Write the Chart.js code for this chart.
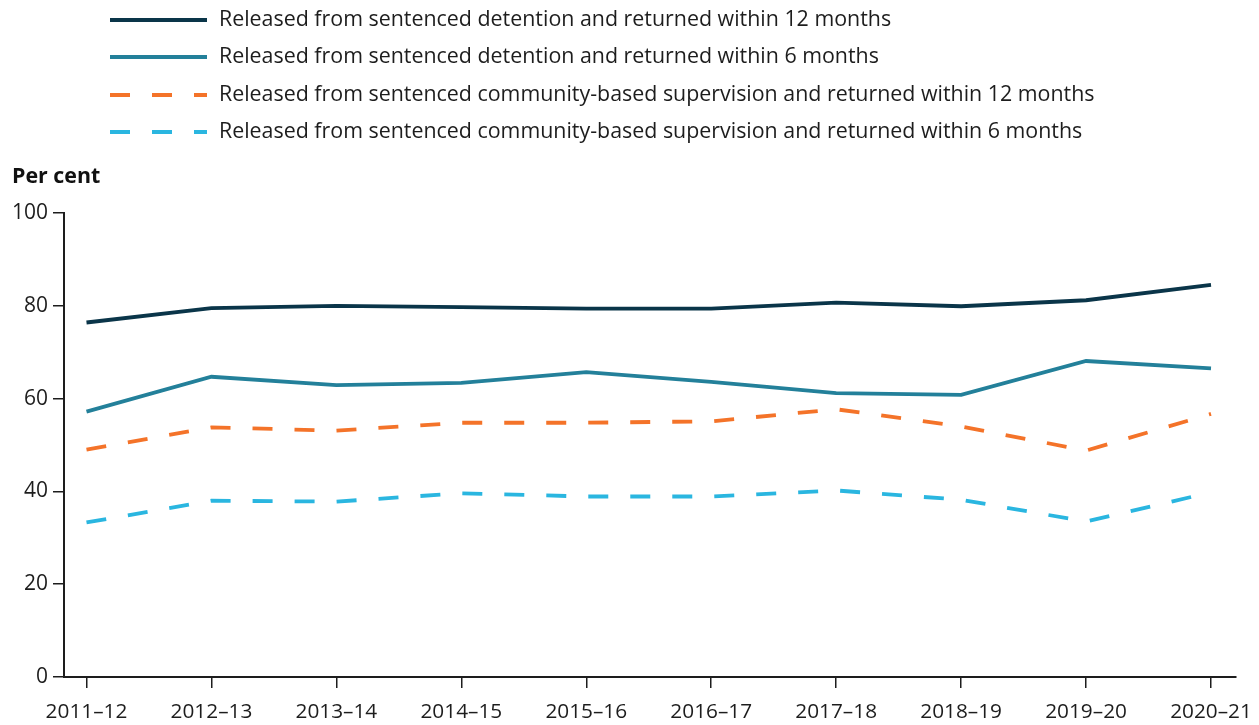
<!DOCTYPE html>
<html>
<head>
<meta charset="utf-8">
<script src="https://cdn.jsdelivr.net/npm/chart.js@4/dist/chart.umd.min.js"></script>
<style>
  html, body { margin: 0; padding: 0; background: #fff; }
  #wrap { width: 1259px; height: 725px; position: relative; }
</style>
</head>
<body>
<div id="wrap"><canvas id="reoffChart"></canvas></div>
<script>
// categories (financial years)
const years = ['2011–12', '2012–13', '2013–14', '2014–15', '2015–16', '2016–17', '2017–18', '2018–19', '2019–20', '2020–21'];

// per cent returned
const detention12 = [76.4, 79.5, 80.0, 79.7, 79.4, 79.4, 80.7, 79.9, 81.2, 84.5];
const detention6 = [57.2, 64.7, 62.9, 63.4, 65.7, 63.6, 61.2, 60.8, 68.1, 66.5];
const community12 = [49.0, 53.8, 53.1, 54.8, 54.8, 55.1, 57.7, 54.0, 48.8, 56.7];
const community6 = [33.3, 38.0, 37.8, 39.6, 38.9, 38.9, 40.2, 38.2, 33.5, 39.8];

const yTicks = [0, 20, 40, 60, 80, 100];

const seriesNames = [
    'Released from sentenced detention and returned within 12 months',
    'Released from sentenced detention and returned within 6 months',
    'Released from sentenced community-based supervision and returned within 12 months',
    'Released from sentenced community-based supervision and returned within 6 months'
];

const FONT = '"Open Sans", "Noto Sans", sans-serif';
const INK = '#1d1d1d';

function toPoints(vals) {
    return vals.map((v, i) => ({ x: i, y: v }));
}

// legend + "Per cent" label drawn by hand so it sits top-left like the original
const topLabels = {
    id: 'topLabels',
    afterDraw(chart) {
        const ctx = chart.ctx;
        ctx.save();
        const rows = [20, 57, 95, 132];
        chart.data.datasets.forEach((ds, i) => {
            const y = rows[i];
            ctx.beginPath();
            ctx.strokeStyle = ds.borderColor;
            ctx.lineWidth = 4;
            ctx.setLineDash(ds.borderDash || []);
            ctx.moveTo(110, y);
            ctx.lineTo(207, y);
            ctx.stroke();
            ctx.setLineDash([]);
            ctx.fillStyle = INK;
            ctx.font = '21.4px ' + FONT;
            ctx.textBaseline = 'middle';
            ctx.textAlign = 'left';
            ctx.fillText(ds.label, 219, y);
        });
        ctx.font = 'bold 21.4px ' + FONT;
        ctx.fillStyle = '#111';
        ctx.textBaseline = 'middle';
        ctx.fillText('Per cent', 12, 177);
        ctx.restore();
    }
};

const ctx = document.getElementById('reoffChart').getContext('2d');

new Chart(ctx, {
    type: 'line',
    data: {
        datasets: [
            { label: seriesNames[0], data: toPoints(detention12), borderColor: '#0a3549', borderWidth: 3.8 },
            { label: seriesNames[1], data: toPoints(detention6), borderColor: '#23809a', borderWidth: 3.8 },
            { label: seriesNames[2], data: toPoints(community12), borderColor: '#f47329', borderWidth: 3.8, borderDash: [20, 22] },
            { label: seriesNames[3], data: toPoints(community6), borderColor: '#2ab6e0', borderWidth: 3.8, borderDash: [20, 22] }
        ]
    },
    options: {
        responsive: true,
        maintainAspectRatio: false,
        animation: false,
        elements: {
            point: { radius: 0 },
            line: { tension: 0, fill: false, borderCapStyle: 'butt' }
        },
        layout: { padding: { top: 213, left: 0, right: 23, bottom: 0 } },
        plugins: {
            legend: { display: false },
            tooltip: { enabled: false }
        },
        scales: {
            x: {
                type: 'linear',
                min: -0.18,
                max: 9.2,
                afterBuildTicks: (s) => { s.ticks = years.map((_, i) => ({ value: i })); },
                afterFit: (s) => { s.height = 48; s.paddingLeft = 0; s.paddingRight = 0; },
                ticks: {
                    autoSkip: false,
                    maxRotation: 0,
                    color: INK,
                    font: { family: FONT, size: 20.8 },
                    padding: 12,
                    callback: (v) => years[v]
                },
                grid: { drawOnChartArea: false, drawTicks: true, tickLength: 11, color: INK, lineWidth: 1.5 },
                border: { display: true, color: INK, width: 2 }
            },
            y: {
                min: 0,
                max: 100,
                afterBuildTicks: (s) => { s.ticks = yTicks.map(v => ({ value: v })); },
                afterFit: (s) => { s.width = 64; },
                ticks: {
                    color: INK,
                    font: { family: FONT, size: 21 },
                    padding: 5
                },
                grid: { drawOnChartArea: false, drawTicks: true, tickLength: 11, color: INK, lineWidth: 1.5 },
                border: { display: true, color: INK, width: 2 }
            }
        }
    },
    plugins: [topLabels]
});
</script>
</body>
</html>
